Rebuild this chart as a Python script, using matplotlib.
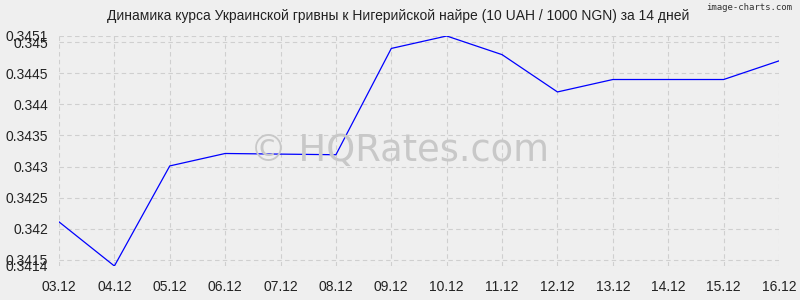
import matplotlib.pyplot as plt
import numpy as np

plt.rcParams['font.family'] = ['Liberation Sans', 'DejaVu Sans']

# data
dates = ['03.12', '04.12', '05.12', '06.12', '07.12', '08.12', '09.12',
         '10.12', '11.12', '12.12', '13.12', '14.12', '15.12', '16.12']
rates = [0.34211, 0.3414, 0.34301, 0.34321, 0.3432, 0.34319, 0.3449,
         0.3451, 0.3448, 0.3442, 0.3444, 0.3444, 0.3444, 0.3447]
ytick_vals = [0.3415, 0.342, 0.3425, 0.343, 0.3435, 0.344, 0.3445, 0.345]
ymin, ymax = 0.3414, 0.3451

bg = '#efefef'
fig = plt.figure(figsize=(8, 3), dpi=100, facecolor=bg)
ax = fig.add_axes([59/800, 34/300, 720/800, 230/300], facecolor=bg)

x = np.arange(len(dates))
ax.plot(x, rates, color='#0000ff', lw=0.9, zorder=3)

ax.set_xlim(0, len(dates) - 1)
ax.set_ylim(ymin, ymax)
ax.set_xticks(x)
ax.set_xticklabels(dates)
yt = [ymin] + ytick_vals + [ymax]
ax.set_yticks(yt)
ax.set_yticklabels([f'{v:g}' for v in yt])
ax.tick_params(length=0, labelsize=10, colors='#222222')
ax.tick_params(axis='x', pad=10)
ax.tick_params(axis='y', pad=8)

ax.grid(True, color='#cfcfcf', ls=(0, (4, 3)), lw=0.8)
for s in ax.spines.values():
    s.set_visible(False)

# watermark
fig.text(0.5, 0.5, '© HQRates.com', ha='center', va='center', fontsize=26.5,
         color='#c8c8c8', family='DejaVu Sans', zorder=1)

fig.text(0.4975, 0.97, 'Динамика курса Украинской гривны к Нигерийской найре (10 UAH / 1000 NGN) за 14 дней',
         ha='center', va='top', fontsize=10, color='#222222')
fig.text(0.99, 0.99, 'image-charts.com', ha='right', va='top', fontsize=6.5,
         color='#333333', family='DejaVu Sans Mono')

fig.savefig('out.png', dpi=100, facecolor=bg)
